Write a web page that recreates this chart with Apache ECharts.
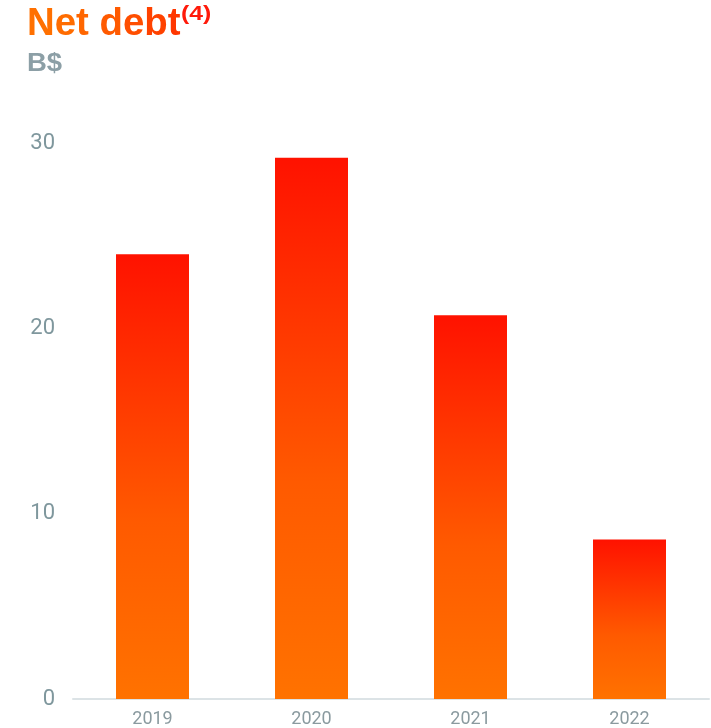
<!DOCTYPE html>
<html><head><meta charset="utf-8">
<script src="https://cdn.jsdelivr.net/npm/echarts@6/dist/echarts.min.js"></script>
<style>html,body{margin:0;padding:0;background:#fff}#c{width:711px;height:728px}</style>
</head><body><div id="c"></div>
<script>
var categories = ['2019', '2020', '2021', '2022'];
var netDebt = [24.0, 29.2, 20.7, 8.6];
var yTicks = [0, 10, 20, 30];

var titleFont = 'bold 38px "Liberation Sans", Arial, sans-serif';
var chart = echarts.init(document.getElementById('c'));
chart.setOption({
  animation: false,
  graphic: [{
    type: 'text', x: 27, y: 6, scaleX: 1.01,
    style: {
      text: '{a|N}{b|e}{c|t }{d|d}{e|e}{f|b}{g|t}',
      font: titleFont,
      rich: {
        a: {font: titleFont, fill: '#ff7000'},
        b: {font: titleFont, fill: '#ff6c00'},
        c: {font: titleFont, fill: '#ff6600'},
        d: {font: titleFont, fill: '#ff5a00'},
        e: {font: titleFont, fill: '#ff4e00'},
        f: {font: titleFont, fill: '#ff4200'},
        g: {font: titleFont, fill: '#ff3600'}
      }
    }
  }, {
    type: 'text', x: 181, y: 4, scaleX: 1.18,
    style: {text: '(4)', font: 'bold 21px "Liberation Sans", Arial, sans-serif', fill: '#ff1a0a'}
  }, {
    type: 'text', x: 27, y: 52, scaleX: 1.1,
    style: {text: 'B$', font: 'bold 25px "Liberation Sans", Arial, sans-serif', fill: '#8c9fa6'}
  }],
  grid: {left: 73, right: 2, top: 143, bottom: 28},
  xAxis: {
    type: 'category', data: categories,
    axisLine: {lineStyle: {color: '#dce3e6', width: 2}},
    axisTick: {show: false},
    axisLabel: {color: '#8a9a9f', fontSize: 18, fontFamily: 'Roboto', margin: 11}
  },
  yAxis: {
    type: 'value', min: 0, max: 30, interval: 10,
    splitLine: {show: false},
    axisLine: {show: false}, axisTick: {show: false},
    axisLabel: {color: '#7f979d', fontSize: 22, fontFamily: 'Roboto', margin: 18,
      formatter: function (v) { return yTicks.indexOf(v) >= 0 ? String(v) : ''; }}
  },
  series: [{
    type: 'bar', data: netDebt, barWidth: 73,
    itemStyle: {
      color: new echarts.graphic.LinearGradient(0, 0, 0, 1, [
        {offset: 0, color: '#ff1200'},
        {offset: 0.6, color: '#ff5a00'},
        {offset: 1, color: '#ff7200'}
      ])
    }
  }]
});
</script></body></html>
